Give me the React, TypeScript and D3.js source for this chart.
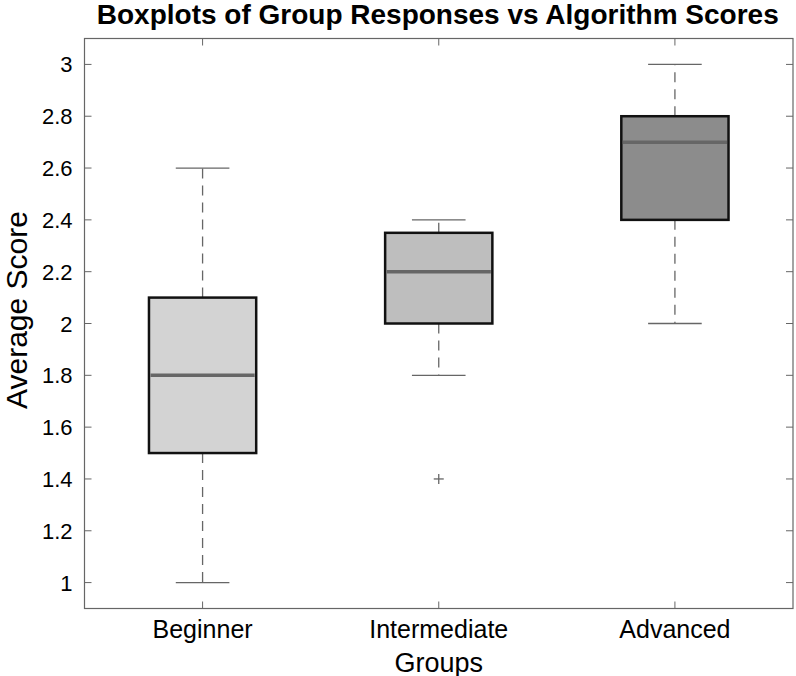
import React from "react";
import * as d3 from "d3";

const categories = ["Beginner", "Intermediate", "Advanced"];
const whiskerLow = [1.0, 1.8, 2.0];
const q1 = [1.5, 2.0, 2.4];
const medians = [1.8, 2.2, 2.7];
const q3 = [2.1, 2.35, 2.8];
const whiskerHigh = [2.6, 2.4, 3.0];
const outliers = [[], [1.4], []] as number[][];
const fills = ["#d3d3d3", "#bebebe", "#8c8c8c"];
const yTicks = [1, 1.2, 1.4, 1.6, 1.8, 2, 2.2, 2.4, 2.6, 2.8, 3];

const W = 796, H = 676;
const M = { left: 84.5, right: 3, top: 38.5, bottom: 67.5 };
const FONT = "'Liberation Sans', Arial, Helvetica, sans-serif";

export default function App() {
  const x = d3.scaleLinear().domain([0.5, 3.5]).range([M.left, W - M.right]);
  const y = d3.scaleLinear().domain([0.9, 3.1]).range([H - M.bottom, M.top]);
  const boxHalf = x(1.227) - x(1);
  const capHalf = boxHalf / 2;
  const tickLen = 7;
  const axisColor = "#666";
  return (
    <svg width={W} height={H} style={{ position: "absolute", left: 0, top: 0, background: "#fff" }}>
      <rect x={0} y={0} width={W} height={H} fill="#fff" />
      <text x={(M.left + W - M.right) / 2 - 1} y={24} textAnchor="middle" fontFamily={FONT} fontWeight="bold" fontSize={28} fill="#000">
        Boxplots of Group Responses vs Algorithm Scores
      </text>
      {/* y ticks */}
      {yTicks.map((t) => (
        <g key={t}>
          <line x1={M.left} x2={M.left + tickLen} y1={y(t)} y2={y(t)} stroke={axisColor} strokeWidth={1} />
          <line x1={W - M.right} x2={W - M.right - tickLen} y1={y(t)} y2={y(t)} stroke={axisColor} strokeWidth={1} />
          <text x={M.left - 12} y={y(t) + 8} textAnchor="end" fontFamily={FONT} fontSize={22} fill="#000">
            {d3.format("~g")(t)}
          </text>
        </g>
      ))}
      {/* x ticks */}
      {categories.map((c, i) => (
        <g key={c}>
          <line x1={x(i + 1)} x2={x(i + 1)} y1={H - M.bottom} y2={H - M.bottom - tickLen} stroke={axisColor} strokeWidth={1} />
          <line x1={x(i + 1)} x2={x(i + 1)} y1={M.top} y2={M.top + tickLen} stroke={axisColor} strokeWidth={1} />
          <text x={x(i + 1)} y={637.5} textAnchor="middle" fontFamily={FONT} fontSize={25} fill="#000">
            {c}
          </text>
        </g>
      ))}
      {/* boxes */}
      {categories.map((c, i) => {
        const cx = x(i + 1);
        return (
          <g key={"b" + c}>
            <line x1={cx} x2={cx} y1={y(q3[i])} y2={y(whiskerHigh[i])} stroke="#666" strokeWidth={1.3} strokeDasharray="10,7" />
            <line x1={cx} x2={cx} y1={y(q1[i])} y2={y(whiskerLow[i])} stroke="#666" strokeWidth={1.3} strokeDasharray="10,7" />
            <line x1={cx - capHalf} x2={cx + capHalf} y1={y(whiskerHigh[i])} y2={y(whiskerHigh[i])} stroke="#666" strokeWidth={1.3} />
            <line x1={cx - capHalf} x2={cx + capHalf} y1={y(whiskerLow[i])} y2={y(whiskerLow[i])} stroke="#666" strokeWidth={1.3} />
            <rect x={cx - boxHalf} y={y(q3[i])} width={2 * boxHalf} height={y(q1[i]) - y(q3[i])} fill={fills[i]} stroke="#111" strokeWidth={2.5} />
            <line x1={cx - boxHalf + 1.5} x2={cx + boxHalf - 1.5} y1={y(medians[i])} y2={y(medians[i])} stroke="#666" strokeWidth={3.5} />
            {outliers[i].map((o, k) => (
              <g key={k}>
                <line x1={cx - 5} x2={cx + 5} y1={y(o)} y2={y(o)} stroke="#666" strokeWidth={1.3} />
                <line x1={cx} x2={cx} y1={y(o) - 5} y2={y(o) + 5} stroke="#666" strokeWidth={1.3} />
              </g>
            ))}
          </g>
        );
      })}
      {/* frame */}
      <rect x={M.left} y={M.top} width={W - M.right - M.left} height={H - M.bottom - M.top} fill="none" stroke={axisColor} strokeWidth={1.2} />
      <text x={(M.left + W - M.right) / 2} y={671.5} textAnchor="middle" fontFamily={FONT} fontSize={27} fill="#000">
        Groups
      </text>
      <text transform={`translate(27, 310) rotate(-90)`} textAnchor="middle" fontFamily={FONT} fontSize={30} fill="#000">
        Average Score
      </text>
    </svg>
  );
}
